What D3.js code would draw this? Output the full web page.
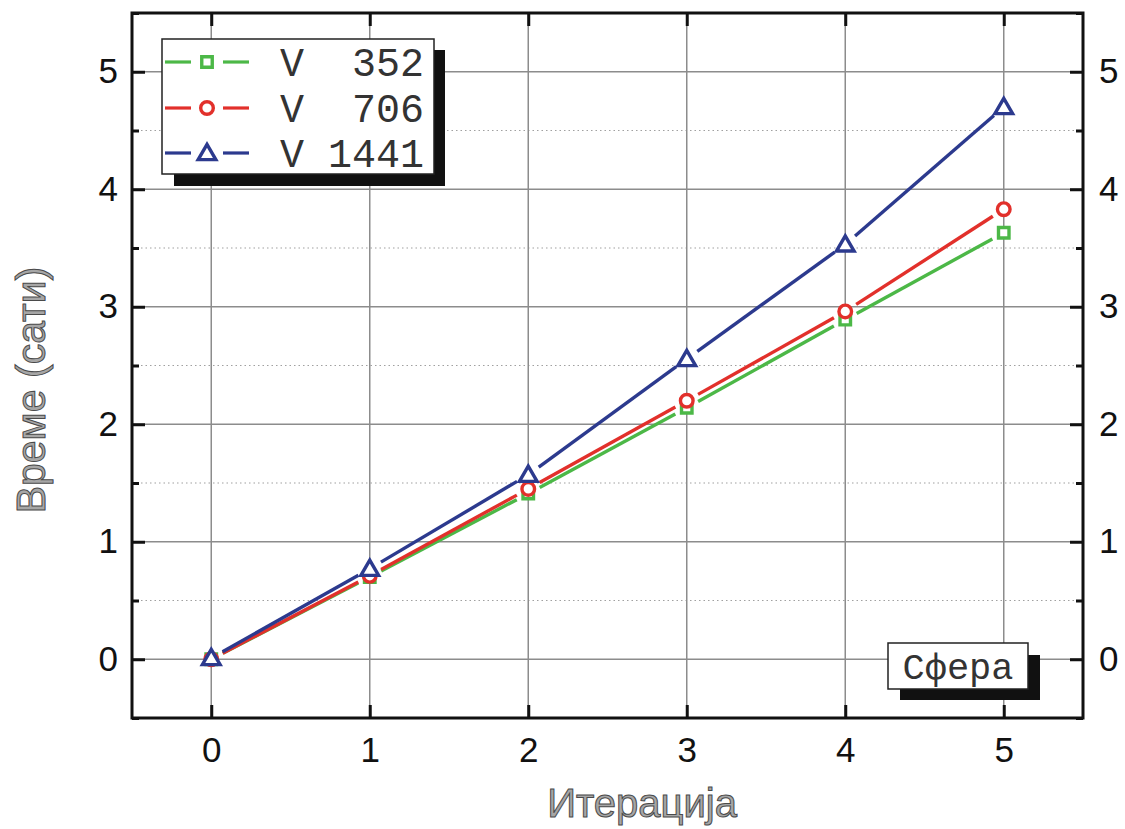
<!DOCTYPE html>
<html>
<head>
<meta charset="utf-8">
<script src="https://cdn.jsdelivr.net/npm/d3@7"></script>
<style>
  body { margin: 0; background: #fff; }
  #chart { width: 1125px; height: 829px; }
</style>
</head>
<body>
<div id="chart"></div>
<script>
// data
var iterations = [0, 1, 2, 3, 4, 5];
var seriesNames = ["V  352", "V  706", "V 1441"];
var v352 = [0.0, 0.70, 1.41, 2.14, 2.89, 3.63];
var v706 = [0.0, 0.71, 1.45, 2.20, 2.96, 3.83];
var v1441 = [0.01, 0.77, 1.57, 2.555, 3.53, 4.70];
var seriesColors = ["#4cb847", "#e2302b", "#2c3a8e"];
var seriesSymbols = ["square", "circle", "triangle"];
var xTicks = [0, 1, 2, 3, 4, 5];
var yTicks = [0, 1, 2, 3, 4, 5];
var yMinorTicks = [-0.5, 0.5, 1.5, 2.5, 3.5, 4.5, 5.5];

function init() {
    var container = d3.select("#chart");
    var w = 1125, h = 829;
    var svg = container.append("svg").attr("width", w).attr("height", h);

    var left = 132, right = 1083, top = 13, bottom = 718;

    var x = d3.scaleLinear().domain([-0.5, 5.5]).range([left, right]);
    var y = d3.scaleLinear().domain([-0.5, 5.5]).range([bottom, top]);

    // grid
    var grid = svg.append("g");
    grid.selectAll("line.minor").data(yMinorTicks).enter().append("line")
        .attr("x1", left).attr("x2", right)
        .attr("y1", d => y(d)).attr("y2", d => y(d))
        .attr("stroke", "#a0a0a0").attr("stroke-width", 1.2)
        .attr("stroke-dasharray", "1.5,3");
    grid.selectAll("line.hy").data(yTicks).enter().append("line")
        .attr("x1", left).attr("x2", right)
        .attr("y1", d => y(d)).attr("y2", d => y(d))
        .attr("stroke", "#8c8c8c").attr("stroke-width", 1.5);
    grid.selectAll("line.vx").data(xTicks).enter().append("line")
        .attr("y1", top).attr("y2", bottom)
        .attr("x1", d => x(d)).attr("x2", d => x(d))
        .attr("stroke", "#8c8c8c").attr("stroke-width", 1.5);

    // axes with inward ticks
    var tickFont = "Liberation Sans, Arial, sans-serif";
    function styleAxis(g) {
        g.select(".domain").remove();
        g.selectAll(".tick line").attr("stroke", "#111").attr("stroke-width", 3);
        g.selectAll(".tick text").attr("font-family", tickFont).attr("font-size", 35).attr("fill", "#111");
    }
    svg.append("g").attr("transform", "translate(0," + bottom + ")")
        .call(d3.axisBottom(x).tickValues(xTicks).tickFormat(d3.format("d")).tickSizeInner(-13).tickPadding(19))
        .call(styleAxis);
    svg.append("g").attr("transform", "translate(0," + top + ")")
        .call(d3.axisTop(x).tickValues(xTicks).tickFormat("").tickSizeInner(-13))
        .call(styleAxis);
    svg.append("g").attr("transform", "translate(" + left + ",0)")
        .call(d3.axisLeft(y).tickValues(yTicks).tickFormat(d3.format("d")).tickSizeInner(-13).tickPadding(14))
        .call(styleAxis);
    svg.append("g").attr("transform", "translate(" + right + ",0)")
        .call(d3.axisRight(y).tickValues(yTicks).tickFormat(d3.format("d")).tickSizeInner(-13).tickPadding(16))
        .call(styleAxis);
    svg.append("g").attr("transform", "translate(" + left + ",0)")
        .call(d3.axisLeft(y).tickValues(yMinorTicks).tickFormat("").tickSizeInner(-7))
        .call(styleAxis);
    svg.append("g").attr("transform", "translate(" + right + ",0)")
        .call(d3.axisRight(y).tickValues(yMinorTicks).tickFormat("").tickSizeInner(-7))
        .call(styleAxis);

    // frame
    svg.append("rect").attr("x", left).attr("y", top)
        .attr("width", right - left).attr("height", bottom - top)
        .attr("fill", "none").attr("stroke", "#111").attr("stroke-width", 3);

    // marker drawing
    var symbolTypes = { square: d3.symbolSquare, circle: d3.symbolCircle, triangle: d3.symbolTriangle };
    var symbolSizes = { square: 110, circle: 125, triangle: 135 };
    function drawMarker(g, type, color, cx, cy) {
        var offset = type === "triangle" ? 1.5 : 0;
        g.append("path")
            .attr("d", d3.symbol().type(symbolTypes[type]).size(symbolSizes[type])())
            .attr("transform", "translate(" + cx + "," + (cy + offset) + ")")
            .attr("fill", "#fff").attr("stroke", color).attr("stroke-width", 3.4);
    }

    // series: segments with gaps around the markers
    var allSeries = [v352, v706, v1441];
    var gap = 13;
    allSeries.forEach(function(vals, i) {
        var g = svg.append("g");
        var pts = iterations.map((d, k) => [x(d), y(vals[k])]);
        for (var k = 0; k < pts.length - 1; k++) {
            var p0 = pts[k], p1 = pts[k + 1];
            var dx = p1[0] - p0[0], dy = p1[1] - p0[1];
            var len = Math.sqrt(dx * dx + dy * dy);
            var ux = dx / len, uy = dy / len;
            g.append("line")
                .attr("x1", p0[0] + ux * gap).attr("y1", p0[1] + uy * gap)
                .attr("x2", p1[0] - ux * gap).attr("y2", p1[1] - uy * gap)
                .attr("stroke", seriesColors[i]).attr("stroke-width", 3.4);
        }
        pts.forEach(p => drawMarker(g, seriesSymbols[i], seriesColors[i], p[0], p[1]));
    });

    // legend
    var lg = svg.append("g");
    lg.append("rect").attr("x", 174).attr("y", 50).attr("width", 271).attr("height", 136).attr("fill", "#111");
    lg.append("rect").attr("x", 162).attr("y", 39).attr("width", 272).attr("height", 135)
        .attr("fill", "#fff").attr("stroke", "#222").attr("stroke-width", 1.5);
    var rowY = [62, 108, 153];
    seriesNames.forEach(function(name, i) {
        var ry = rowY[i];
        lg.append("line").attr("x1", 165).attr("x2", 191).attr("y1", ry).attr("y2", ry)
            .attr("stroke", seriesColors[i]).attr("stroke-width", 3.2);
        lg.append("line").attr("x1", 223).attr("x2", 249).attr("y1", ry).attr("y2", ry)
            .attr("stroke", seriesColors[i]).attr("stroke-width", 3.2);
        drawMarker(lg, seriesSymbols[i], seriesColors[i], 207, ry);
        lg.append("text").attr("x", 424).attr("y", ry + 14)
            .attr("text-anchor", "end")
            .attr("font-family", "Liberation Mono, Courier New, monospace")
            .attr("font-size", 40).attr("fill", "#333")
            .attr("xml:space", "preserve").style("white-space", "pre")
            .text(name);
    });

    // "Сфера" label
    var sb = svg.append("g");
    sb.append("rect").attr("x", 900).attr("y", 655).attr("width", 140).attr("height", 45).attr("fill", "#111");
    sb.append("rect").attr("x", 888).attr("y", 643).attr("width", 140).attr("height", 46)
        .attr("fill", "#fff").attr("stroke", "#222").attr("stroke-width", 1.5);
    sb.append("text").attr("x", 958).attr("y", 679).attr("text-anchor", "middle")
        .attr("font-family", "Liberation Mono, Courier New, monospace")
        .attr("font-size", 37).attr("fill", "#333").text("Сфера");

    // axis titles
    svg.append("text").attr("x", 642).attr("y", 817).attr("text-anchor", "middle")
        .attr("font-family", tickFont).attr("font-size", 40)
        .attr("fill", "#a6a6a6").attr("stroke", "#4a4a4a").attr("stroke-width", 1)
        .text("Итерација");
    svg.append("text").attr("transform", "translate(45,390) rotate(-90)").attr("text-anchor", "middle")
        .attr("font-family", tickFont).attr("font-size", 41)
        .attr("fill", "#a6a6a6").attr("stroke", "#4a4a4a").attr("stroke-width", 1)
        .text("Време (сати)");
}

window.onload = init;
</script>
</body>
</html>
